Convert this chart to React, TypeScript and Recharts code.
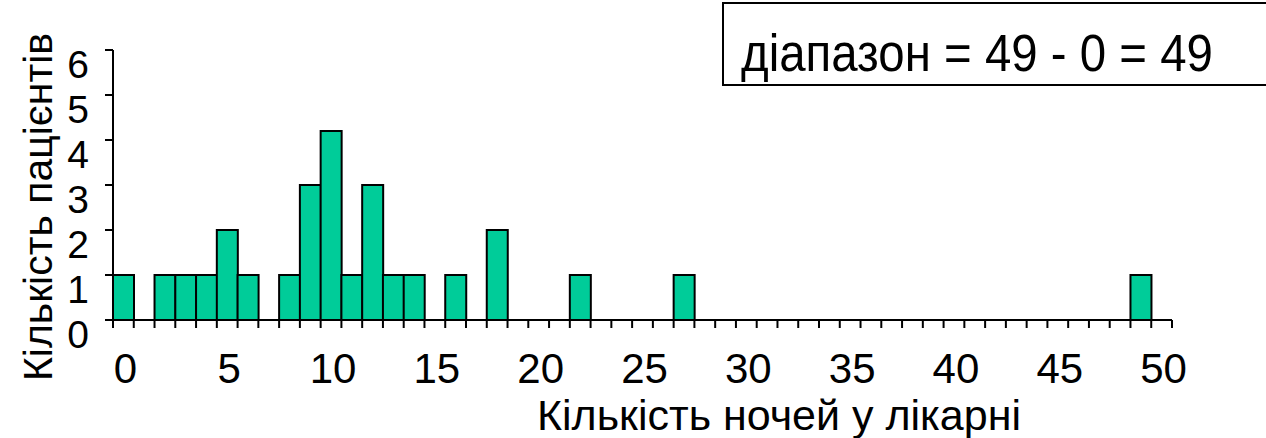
import { Bar, BarChart, Label, XAxis, YAxis } from "recharts";

// nights spent in hospital (one bar per night count)
const nights = [
  0, 1, 2, 3, 4, 5, 6, 7, 8, 9,
  10, 11, 12, 13, 14, 15, 16, 17, 18, 19,
  20, 21, 22, 23, 24, 25, 26, 27, 28, 29,
  30, 31, 32, 33, 34, 35, 36, 37, 38, 39,
  40, 41, 42, 43, 44, 45, 46, 47, 48, 49,
  50,
];

// number of patients per night count
const patients = [
  1, 0, 1, 1, 1, 2, 1, 0, 1, 3,
  4.2, 1, 3, 1, 1, 0, 1, 0, 2, 0,
  0, 0, 1, 0, 0, 0, 0, 1, 0, 0,
  0, 0, 0, 0, 0, 0, 0, 0, 0, 0,
  0, 0, 0, 0, 0, 0, 0, 0, 0, 1,
  0,
];

const xLabels = [0, 5, 10, 15, 20, 25, 30, 35, 40, 45, 50];
const yTicks = [0, 1, 2, 3, 4, 5, 6];

const xTitle = "Кількість ночей у лікарні";
const yTitle = "Кількість пацієнтів";
const note = "діапазон = 49 - 0 = 49";

const data = nights.map((n, i) => ({ n, count: patients[i] }));

const W = 1266;
const H = 438;
const PLOT_LEFT = 113;
const PLOT_RIGHT = 1172;
const PLOT_TOP = 50;
const PLOT_BOTTOM = 320;
const X_AXIS_H = 110;
const BAND = (PLOT_RIGHT - PLOT_LEFT) / nights.length;
const FONT = "Arial, 'Liberation Sans', sans-serif";

function XTick(props: any) {
  const { x, y, payload } = props;
  const half = BAND / 2;
  const isLast = payload.value === nights[nights.length - 1];
  return (
    <g>
      <line x1={x - half} x2={x - half} y1={y} y2={y + 8} stroke="#000" strokeWidth={2} />
      {isLast && (
        <line x1={x + half} x2={x + half} y1={y} y2={y + 8} stroke="#000" strokeWidth={2} />
      )}
      {xLabels.includes(payload.value) && (
        <text x={x + 2} y={y + 63} textAnchor="middle" fontSize={42} fontFamily={FONT} fill="#000">
          {payload.value}
        </text>
      )}
    </g>
  );
}

function YTick(props: any) {
  const { x, y, payload } = props;
  return (
    <text x={x} y={y + 28} textAnchor="end" fontSize={39} fontFamily={FONT} fill="#000">
      {payload.value}
    </text>
  );
}

export default function App() {
  return (
    <div style={{ position: "absolute", left: 0, top: 0, width: W, height: H, background: "#fff" }}>
      <BarChart
        width={W}
        height={H}
        data={data}
        barCategoryGap={0}
        margin={{ top: PLOT_TOP, right: W - PLOT_RIGHT, left: 0, bottom: H - PLOT_BOTTOM - X_AXIS_H }}
      >
        <XAxis
          dataKey="n"
          type="category"
          interval={0}
          height={X_AXIS_H}
          tickSize={0}
          tickMargin={0}
          tickLine={false}
          axisLine={{ stroke: "#000", strokeWidth: 2 }}
          tick={XTick}
        >
          <Label
            content={() => (
              <text x={537} y={430} fontSize={43} fontFamily={FONT} fill="#000">
                {xTitle}
              </text>
            )}
          />
        </XAxis>
        <YAxis
          width={PLOT_LEFT}
          domain={[0, 6]}
          ticks={yTicks}
          interval={0}
          tickSize={8}
          tickMargin={16}
          tickLine={{ stroke: "#000", strokeWidth: 2 }}
          axisLine={{ stroke: "#000", strokeWidth: 2 }}
          tick={YTick}
        >
          <Label
            content={() => (
              <text
                x={52}
                y={207}
                textAnchor="middle"
                fontSize={41}
                fontFamily={FONT}
                fill="#000"
                transform="rotate(-90, 52, 207)"
              >
                {yTitle}
              </text>
            )}
          />
        </YAxis>
        <Bar
          dataKey="count"
          fill="#00CC99"
          stroke="#000"
          strokeWidth={2}
          isAnimationActive={false}
        />
      </BarChart>
      <svg
        width={W}
        height={100}
        style={{ position: "absolute", left: 0, top: 0 }}
      >
        <rect x={723} y={3} width={600} height={82} fill="#fff" stroke="#000" strokeWidth={2} />
        <g transform="translate(741,0) scale(0.93,1)">
          <text x={0} y={71} fontSize={51} fontFamily={FONT} fill="#000">
            {note}
          </text>
        </g>
      </svg>
    </div>
  );
}
